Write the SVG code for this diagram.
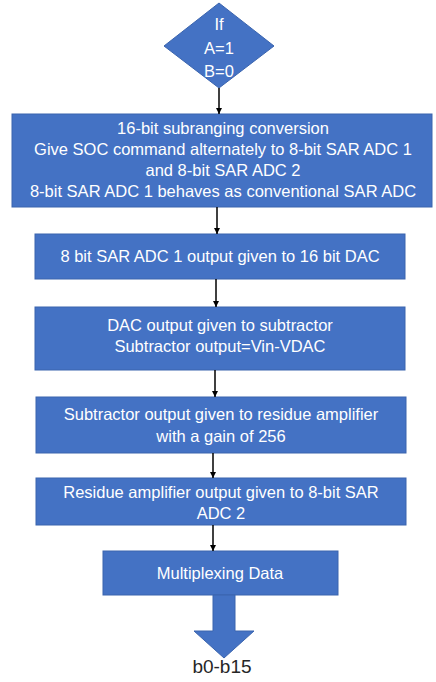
<svg xmlns="http://www.w3.org/2000/svg" width="436" height="682" viewBox="0 0 436 682">
  <style>
    .shape { fill: #4472C4; stroke: #3A64AE; stroke-width: 1; }
    .lbl { font-family: "Liberation Sans", Arial, sans-serif; font-size: 16.5px; fill: #ffffff; text-anchor: middle; }
    .conn { stroke: #000000; stroke-width: 1.5; fill: none; marker-end: url(#ah); }
    .out { font-family: "Liberation Sans", Arial, sans-serif; font-size: 19px; fill: #262626; text-anchor: middle; }
  </style>
  <defs>
    <marker id="ah" viewBox="0 0 10 10" refX="10" refY="5" markerWidth="6" markerHeight="6" markerUnits="userSpaceOnUse" orient="auto">
      <path d="M0,0 L10,5 L0,10 z" fill="#000000"/>
    </marker>
  </defs>
  <rect width="436" height="682" fill="#ffffff"/>

  <g id="decision">
    <polygon class="shape" points="219,3 274,46 219,88 164,46"/>
    <text class="lbl" x="219" y="30">If</text>
    <text class="lbl" x="219" y="54">A=1</text>
    <text class="lbl" x="219" y="77">B=0</text>
  </g>

  <g id="subranging">
    <rect class="shape" x="12" y="114" width="420" height="93"/>
    <text class="lbl" x="223" y="134">16-bit subranging conversion</text>
    <text class="lbl" x="223" y="155">Give SOC command alternately to 8-bit SAR ADC 1</text>
    <text class="lbl" x="223" y="176">and 8-bit SAR ADC 2</text>
    <text class="lbl" x="223" y="197">8-bit SAR ADC 1 behaves as conventional SAR ADC</text>
  </g>

  <g id="dac">
    <rect class="shape" x="35" y="234" width="370" height="45"/>
    <text class="lbl" x="220" y="262">8 bit SAR ADC 1 output given to 16 bit DAC</text>
  </g>

  <g id="subtractor">
    <rect class="shape" x="35" y="307" width="370" height="63"/>
    <text class="lbl" x="220" y="331">DAC output given to subtractor</text>
    <text class="lbl" x="220" y="352">Subtractor output=Vin-VDAC</text>
  </g>

  <g id="residue">
    <rect class="shape" x="36" y="397" width="370" height="56"/>
    <text class="lbl" x="221" y="420">Subtractor output given to residue amplifier</text>
    <text class="lbl" x="221" y="442">with a gain of 256</text>
  </g>

  <g id="adc2">
    <rect class="shape" x="36" y="478" width="370" height="47"/>
    <text class="lbl" x="221" y="498">Residue amplifier output given to 8-bit SAR</text>
    <text class="lbl" x="221" y="519">ADC 2</text>
  </g>

  <g id="mux">
    <rect class="shape" x="103" y="551" width="235" height="44"/>
    <text class="lbl" x="220" y="579">Multiplexing Data</text>
  </g>

  <g id="connectors">
    <line class="conn" x1="219" y1="88" x2="219" y2="114"/>
    <line class="conn" x1="217" y1="207" x2="217" y2="234"/>
    <line class="conn" x1="216" y1="279" x2="216" y2="307"/>
    <line class="conn" x1="215" y1="370" x2="215" y2="397"/>
    <line class="conn" x1="213" y1="453" x2="213" y2="478"/>
    <line class="conn" x1="213" y1="525" x2="213" y2="551"/>
    <polygon class="shape" points="213,595 235,595 235,631 254,631 224,658 194,631 213,631"/>
  </g>

  <g id="output">
    <text class="out" x="222" y="673">b0-b15</text>
  </g>
</svg>
